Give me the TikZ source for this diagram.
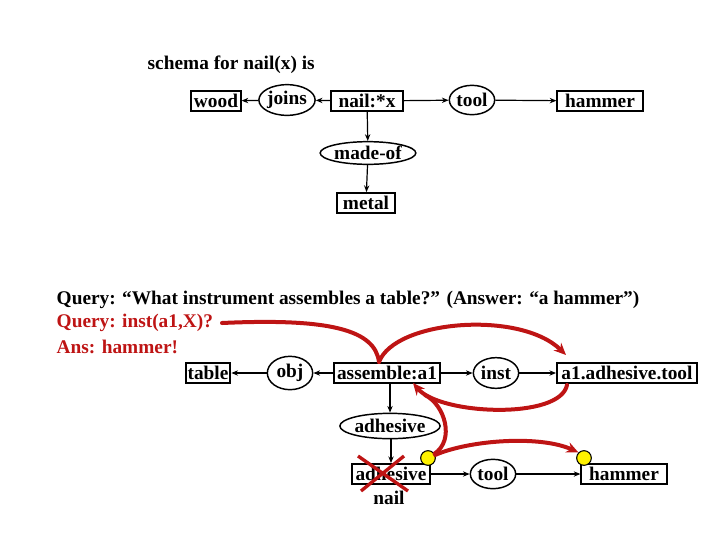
\documentclass[tikz,border=0pt]{standalone}
\usepackage{fontspec}
\setmainfont{Liberation Serif}
\usetikzlibrary{shapes.geometric,arrows.meta}
\definecolor{dred}{RGB}{190,20,20}
\begin{document}
\begin{tikzpicture}[x=0.75pt,y=-0.75pt,
  every node/.style={font=\fontsize{14.5}{16}\selectfont\bfseries},
  bx/.style={draw,line width=1.4pt,inner sep=1.5pt,minimum height=15pt},
  el/.style={draw,ellipse,line width=1.1pt,inner sep=0pt},
  ar/.style={-{Stealth[length=5pt,width=4pt]},line width=0.9pt},
  rd/.style={draw=dred,line width=3pt,line cap=round},
  rda/.style={rd,-{Stealth[length=9pt,width=8pt]}},
  yc/.style={circle,fill=yellow,draw,line width=0.8pt,minimum size=11pt,inner sep=0pt}]
\useasboundingbox (0,0) rectangle (720,540);
\node[anchor=west] (title) at (143,65) {schema for nail(x) is};
\node[bx,minimum width=37pt] (wood) at (216,101) {wood};
\node[el,minimum width=34pt,minimum height=23pt] (joins) at (287,100) {joins};
\node[bx,minimum width=54pt] (nail) at (367,101) {nail:*x};
\node[el,minimum width=34pt,minimum height=22pt] (tool1) at (472,100) {tool};
\node[bx,minimum width=64pt] (ham1) at (600,101) {hammer};
\node[el,minimum width=70pt,minimum height=17pt] (madeof) at (368,153) {made-of};
\node[bx,minimum width=43pt] (metal) at (366,203) {metal};
\draw[ar] (nail) -- (joins);
\draw[ar] (joins) -- (wood);
\draw[ar] (nail) -- (tool1);
\draw[ar] (tool1) -- (ham1);
\draw[ar] (nail) -- (madeof);
\draw[ar] (madeof) -- (metal);

\node[anchor=west] (q1) at (52,300) {Query: “What instrument assembles a table?” (Answer: “a hammer”)};
\node[anchor=west,text=dred] (q2) at (52,323) {Query: inst(a1,X)?};
\node[anchor=west,text=dred] (q3) at (52,347) {Ans: hammer!};

\node[bx] (table) at (208,373) {table};
\node[el,minimum width=34pt,minimum height=25pt] (obj) at (290,373) {obj};
\node[bx,minimum width=80pt] (assem) at (387,373) {assemble:a1};
\node[el,minimum width=34pt,minimum height=23pt] (inst) at (496,373) {inst};
\node[bx,minimum width=105pt] (atool) at (627,373) {a1.adhesive.tool};
\node[el,minimum width=70pt,minimum height=19pt] (adh) at (390,426) {adhesive};
\node[bx,minimum width=58pt] (adhb) at (391,474) {adhesive};
\node (nailt) at (389,498) {nail};
\node[el,minimum width=34pt,minimum height=22pt] (tool2) at (493,474) {tool};
\node[bx,minimum width=64pt] (ham2) at (624,474) {hammer};
\draw[ar] (assem) -- (obj);
\draw[ar] (obj) -- (table);
\draw[ar] (assem) -- (inst);
\draw[ar] (inst) -- (atool);
\draw[ar] (assem.south -| adh.north) -- (adh);
\draw[ar] (adh.south -| adhb.north) -- (adhb);
\draw[ar] (adhb) -- (tool2);
\draw[ar] (tool2) -- (ham2);

\coordinate (qs) at (222,323);
\coordinate (aTop) at (379,362);
\coordinate (tTop) at (566,355);
\coordinate (tBot) at (567,385);
\coordinate (aRight) at (413,383);
\node[yc] (y1) at (428,458) {};
\node[yc] (y2) at (584,458) {};
\draw[rd] (qs) .. controls (330,318) and (375,330) .. (aTop);
\draw[rda] (aTop) .. controls (395,320) and (520,310) .. (tTop);
\draw[rda] (tBot) .. controls (560,420) and (440,415) .. (aRight);
\draw[rd] (425,395) .. controls (445,405) and (455,440) .. (y1);
\draw[rda] (y1) .. controls (470,440) and (540,435) .. (y2.north west);
\draw[draw=dred,line width=2.5pt] (358,456) -- (408,491) (404,456) -- (361,491);
\end{tikzpicture}
\end{document}
